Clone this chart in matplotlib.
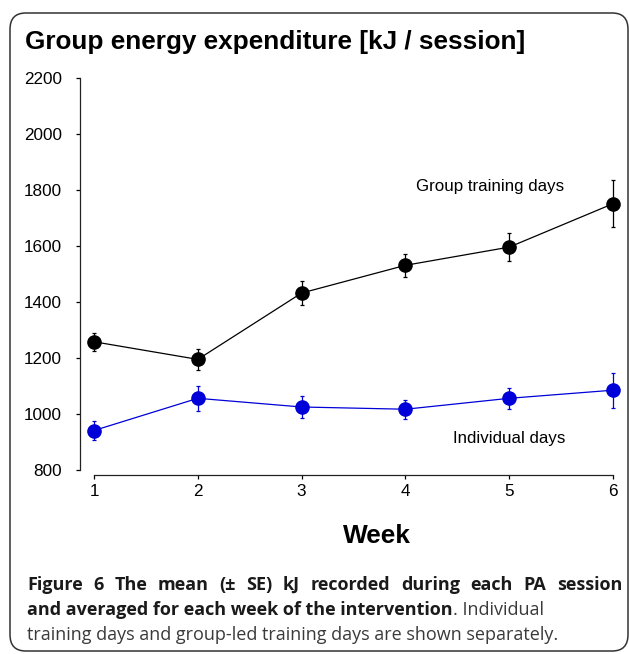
import matplotlib
matplotlib.use("Agg")
import matplotlib.pyplot as plt
from matplotlib.patches import FancyBboxPatch

weeks = [1, 2, 3, 4, 5, 6]
group_mean = [1258, 1195, 1432, 1531, 1596, 1751]
group_se = [33, 38, 42, 42, 50, 83]
indiv_mean = [941, 1056, 1025, 1017, 1056, 1085]
indiv_se = [34, 44, 41, 34, 38, 62]
yticks = [800, 1000, 1200, 1400, 1600, 1800, 2000, 2200]

W, H = 629, 654
fig = plt.figure(figsize=(W / 100, H / 100), dpi=100)

def fx(x):
    return x / W

def fy(y):
    return 1 - y / H

# rounded frame
frame = FancyBboxPatch((fx(10), fy(651)), fx(628) - fx(10), fy(13) - fy(651),
                       boxstyle="round,pad=0,rounding_size=0.025",
                       transform=fig.transFigure, fill=False,
                       edgecolor="#333333", linewidth=1.1)
fig.patches.append(frame)

ax = fig.add_axes([fx(80), fy(475), (613 - 80) / W, (475 - 78) / H])
ax.set_xlim(0.865, 6)
ax.set_ylim(782.1, 2200)

blue = "#0000D8"
ax.errorbar(weeks, indiv_mean, yerr=indiv_se, color=blue, marker="o",
            markersize=9.5, linewidth=0.9, elinewidth=0.9, capsize=1.6,
            capthick=0.9, clip_on=False, zorder=3)
ax.errorbar(weeks, group_mean, yerr=group_se, color="black", marker="o",
            markersize=9.5, linewidth=0.9, elinewidth=0.9, capsize=1.6,
            capthick=0.9, clip_on=False, zorder=3)

for s in ["top", "right"]:
    ax.spines[s].set_visible(False)
ax.spines["left"].set_bounds(800, 2200)
ax.spines["bottom"].set_bounds(1, 6)
for s in ["left", "bottom"]:
    ax.spines[s].set_linewidth(0.9)
    ax.spines[s].set_color("#222222")

tickfont = dict(family="Liberation Sans", size=12.3)
ax.set_yticks(yticks)
ax.set_yticklabels([str(v) for v in yticks], **tickfont)
ax.set_xticks(weeks)
ax.set_xticklabels([str(v) for v in weeks], **tickfont)
ax.tick_params(axis="y", length=3, width=0.9, pad=10)
ax.tick_params(axis="x", length=3, width=0.9, pad=3.5)

ax.text(4.815, 1811, "Group training days", ha="center", va="center",
        family="Liberation Sans", fontsize=12.2)
ax.text(5.0, 911, "Individual days", ha="center", va="center",
        family="Liberation Sans", fontsize=12.2)

fig.text(fx(25), fy(42), "Group energy expenditure [kJ / session]",
         ha="left", va="center", family="Liberation Sans",
         fontweight="bold", fontsize=18.8)
fig.text(fx(377), fy(536), "Week", ha="center", va="center",
         family="Liberation Sans", fontweight="bold", fontsize=18.9)

boldfont = dict(family="Open Sans", fontsize=13.0, fontweight="bold", color="#1a1a1a")
regfont = dict(family="Open Sans", fontsize=13.0, color="#3a3a3a")
renderer = fig.canvas.get_renderer()

# justified first caption line
words = "Figure 6 The mean (± SE) kJ recorded during each PA session".split(" ")
x_left, x_right = 27, 622
objs = [fig.text(0, fy(585), w, ha="left", va="center", **boldfont) for w in words]
widths = [o.get_window_extent(renderer=renderer).width for o in objs]
gap = (x_right - x_left - sum(widths)) / (len(words) - 1)
xpos = x_left
for o, wd in zip(objs, widths):
    o.set_x(fx(xpos))
    xpos += wd + gap

t2 = fig.text(fx(27), fy(610), "and averaged for each week of the intervention",
              ha="left", va="center", **boldfont)
bb = t2.get_window_extent(renderer=renderer)
fig.text(bb.x1 / W, fy(610), ". Individual", ha="left", va="center", **regfont)
fig.text(fx(27), fy(635), "training days and group-led training days are shown separately.",
         ha="left", va="center", **regfont)

fig.savefig("out.png", dpi=100)
